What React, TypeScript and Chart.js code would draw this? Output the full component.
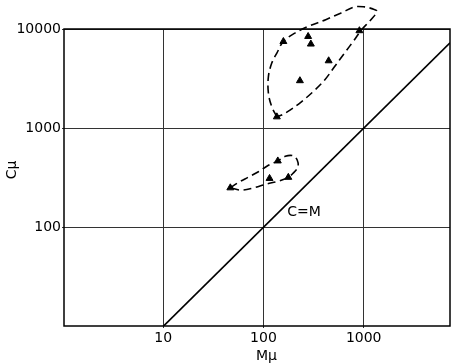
import React, { useEffect, useRef } from "react";
import { Chart, registerables } from "chart.js";

Chart.register(...registerables);

// Tick labels
const xTickValues = [10, 100, 1000];
const yTickValues = [100, 1000, 10000];

// Measured points (triangles), M (x) and C (y)
const upperClusterM = [1325, 906, 158, 279, 297, 447, 231, 136];
const upperClusterC = [15070, 9610, 7480, 8410, 7050, 4780, 3010, 1300];
const lowerClusterM = [139, 177, 115, 46.7];
const lowerClusterC = [467, 319, 311, 250];

// Dashed envelope around the upper cluster
const upperLoopM = [136, 121, 112, 112, 121, 136, 158, 206, 279, 418, 596, 809, 1016, 1228, 1355, 1180, 940, 809, 644, 513, 408, 313, 239, 184, 152, 136];
const upperLoopC = [1300, 1644, 2250, 3310, 4530, 5720, 7480, 9100, 10620, 12420, 14520, 16700, 16700, 15960, 15070, 12420, 9680, 7800, 5720, 4180, 3060, 2333, 1845, 1520, 1355, 1300];

// Dashed envelope around the lower cluster
const lowerLoopM = [46.7, 56.5, 71, 89, 112, 139, 165, 198, 217, 221, 198, 177, 141, 107, 80, 60.5, 46.7];
const lowerLoopC = [250, 284, 321, 363, 422, 467, 520, 527, 477, 406, 352, 319, 292, 273, 250, 237, 250];

// C = M reference line
const identityM = [10, 7262];
const identityC = [10, 7262];

const zip = (xs: number[], ys: number[]) => xs.map((x, i) => ({ x, y: ys[i] }));

const FONT = "'DejaVu Sans', sans-serif";

export default function App() {
  const ref = useRef<HTMLCanvasElement | null>(null);

  useEffect(() => {
    if (!ref.current) return;

    const textPlugin = {
      id: "texts",
      afterDraw(chart: any) {
        const ctx = chart.ctx as CanvasRenderingContext2D;
        const { left, right, top, bottom } = chart.chartArea;
        ctx.save();
        // frame
        ctx.strokeStyle = "#000";
        ctx.lineWidth = 1.5;
        ctx.strokeRect(left, top, right - left, bottom - top);
        ctx.fillStyle = "#000";
        ctx.font = `14px ${FONT}`;
        ctx.textAlign = "center";
        ctx.textBaseline = "middle";
        // x title
        ctx.fillText("Mμ", chart.scales.x.getPixelForValue(100) + 3, 356);
        // C=M label
        ctx.fillText("C=M", 304, 212);
        // y title
        ctx.translate(12, 170);
        ctx.rotate(-Math.PI / 2);
        ctx.fillText("Cμ", 0, 0);
        ctx.restore();
      },
    };

    const chart = new Chart(ref.current, {
      type: "scatter",
      data: {
        datasets: [
          {
            data: zip(upperClusterM, upperClusterC),
            pointStyle: "triangle",
            pointRadius: 4,
            backgroundColor: "#000",
            borderColor: "#000",
            borderWidth: 1,
            clip: false as any,
          },
          {
            data: zip(lowerClusterM, lowerClusterC),
            pointStyle: "triangle",
            pointRadius: 4,
            backgroundColor: "#000",
            borderColor: "#000",
            borderWidth: 1,
            clip: false as any,
          },
          {
            data: zip(upperLoopM, upperLoopC),
            showLine: true,
            pointRadius: 0,
            borderColor: "#000",
            borderWidth: 1.6,
            borderDash: [8, 4.5],
            tension: 0.35,
            clip: false as any,
          },
          {
            data: zip(lowerLoopM, lowerLoopC),
            showLine: true,
            pointRadius: 0,
            borderColor: "#000",
            borderWidth: 1.6,
            borderDash: [8, 4.5],
            tension: 0.35,
            clip: false as any,
          },
          {
            data: zip(identityM, identityC),
            showLine: true,
            pointRadius: 0,
            borderColor: "#000",
            borderWidth: 1.6,
            tension: 0,
          },
        ],
      },
      options: {
        animation: false,
        responsive: false,
        layout: { padding: { top: 29, right: 2, left: 0, bottom: 0 } },
        plugins: {
          legend: { display: false },
          tooltip: { enabled: false },
        },
        scales: {
          x: {
            type: "logarithmic",
            min: 1.023,
            max: 7262,
            afterBuildTicks: (scale: any) => {
              scale.ticks = xTickValues.map((v) => ({ value: v }));
            },
            afterFit: (scale: any) => {
              scale.height = 37;
            },
            ticks: {
              autoSkip: false,
              maxRotation: 0,
              padding: 2,
              color: "#000",
              font: { family: FONT, size: 14 },
              callback: (v: any) => String(v),
            },
            grid: { color: "#333", lineWidth: 1, drawTicks: true, tickLength: 2 },
            border: { display: false },
          },
          y: {
            type: "logarithmic",
            min: 10.1,
            max: 10000,
            afterBuildTicks: (scale: any) => {
              scale.ticks = yTickValues.map((v) => ({ value: v }));
            },
            afterFit: (scale: any) => {
              scale.width = 64;
            },
            ticks: {
              autoSkip: false,
              padding: 1,
              color: "#000",
              font: { family: FONT, size: 14 },
              callback: (v: any) => String(v),
            },
            grid: { color: "#333", lineWidth: 1, drawTicks: true, tickLength: 2 },
            border: { display: false },
          },
        },
      },
      plugins: [textPlugin],
    });

    return () => chart.destroy();
  }, []);

  return (
    <div style={{ position: "fixed", left: 0, top: 0, width: 455, height: 363, background: "#fff" }}>
      <canvas ref={ref} width={455} height={363} style={{ display: "block" }} />
    </div>
  );
}
